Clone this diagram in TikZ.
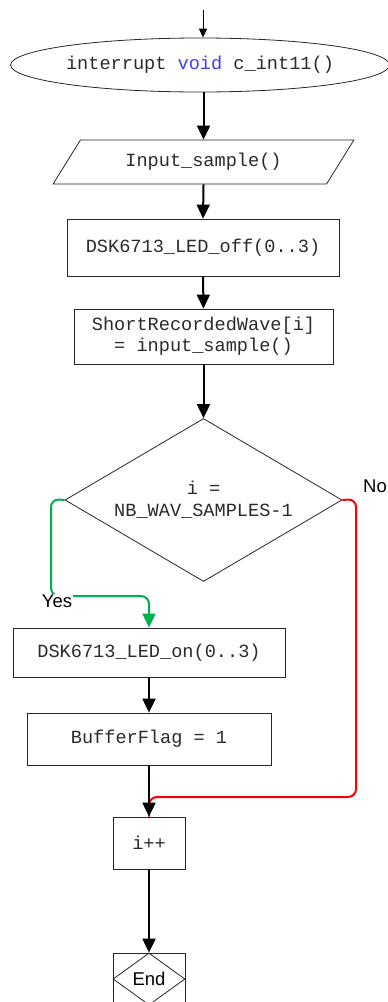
\documentclass[tikz,border=0pt]{standalone}
\usepackage{fontspec}
\setmonofont{Liberation Mono}
\setsansfont{Liberation Sans}
\usetikzlibrary{shapes.geometric,arrows.meta}
\definecolor{kwblue}{HTML}{3C3CFF}
\definecolor{yesgreen}{HTML}{00B050}
\definecolor{nored}{HTML}{FF0000}
\definecolor{txt}{HTML}{2A2A2A}
\tikzset{
  codefont/.style={font=\ttfamily\fontsize{18.6}{21}\selectfont, text=txt},
  labfont/.style={font=\sffamily\fontsize{18.5}{21}\selectfont},
  blk/.style={draw=black!85, line width=0.8pt, inner sep=0pt, codefont, align=center},
  flow/.style={draw=black, line width=2pt, -{Triangle[length=14pt,width=13pt]}},
  branch/.style={line width=2pt, rounded corners=8pt},
}
\begin{document}
\begin{tikzpicture}[x=1pt,y=-1pt]
  \useasboundingbox (0,0) rectangle (388,1002);
  \clip (0,0) rectangle (388,1002);

  % entry point
  \coordinate (entry) at (203,10);
  \node[blk, ellipse, minimum width=376pt, minimum height=54pt] (isr) at (200,65)
    {interrupt \textcolor{kwblue}{void} c\_int11()};

  % processing steps
  \node[blk, trapezium, trapezium left angle=45, trapezium right angle=135,
        trapezium stretches=true, minimum width=301pt, minimum height=44pt] (inp) at (203.5,162)
    {Input\_sample()};
  \node[blk, rectangle, minimum width=272pt, minimum height=57pt] (ledoff) at (203,247.5)
    {DSK6713\_LED\_off(0..3)};
  \node[blk, rectangle, minimum width=259pt, minimum height=55pt] (store) at (203.5,336.5)
    {ShortRecordedWave[i]\\= input\_sample()};

  % decision
  \node[blk, diamond, aspect=1.7, minimum width=277pt, minimum height=163pt] (dec) at (203.5,500)
    {i =\\[1pt]NB\_WAV\_SAMPLES-1};

  % yes branch
  \node[blk, rectangle, minimum width=272pt, minimum height=49pt] (ledon) at (149,652.5)
    {DSK6713\_LED\_on(0..3)};
  \node[blk, rectangle, minimum width=244pt, minimum height=52pt] (flag) at (149,739)
    {BufferFlag = 1};

  % common tail
  \node[blk, rectangle, minimum width=72pt, minimum height=52pt] (inc) at (149,843) {i++};
  \node[blk, rectangle, minimum width=72pt, minimum height=52pt] (endbox) at (149,979) {};
  \node[blk, diamond, aspect=1.4, minimum width=72pt, minimum height=52pt, labfont, text=black] (end) at (149,979) {End};

  % connectors
  \draw[line width=1pt, -{Triangle[length=9pt,width=8pt]}] (entry) -- (entry |- isr.north);
  \draw[flow] (inp.north |- isr.south) -- (inp.north);
  \draw[flow] (inp.south) -- (ledoff.north);
  \draw[flow] (ledoff.south) -- (store.north);
  \draw[flow] (store.south) -- (dec.north);

  \draw[branch, draw=yesgreen, -{Triangle[length=14pt,width=13pt]}]
    (dec.west) -- (51,499) -- (51,596) -- (ledon.north |- 0,596) -- (ledon.north);
  \node[labfont, fill=white, inner sep=1pt] (yes) at (57,601) {Yes};

  \draw[branch, draw=nored] (dec.east) -- (356,499) -- (356,797) -- (inc.north |- 0,797) -- (inc.north);
  \node[labfont] (no) at (375,486) {No};

  \draw[flow] (ledon.south) -- (flag.north);
  \draw[flow] (flag.south) -- (inc.north);
  \draw[flow] (inc.south) -- (endbox.north);
\end{tikzpicture}
\end{document}
